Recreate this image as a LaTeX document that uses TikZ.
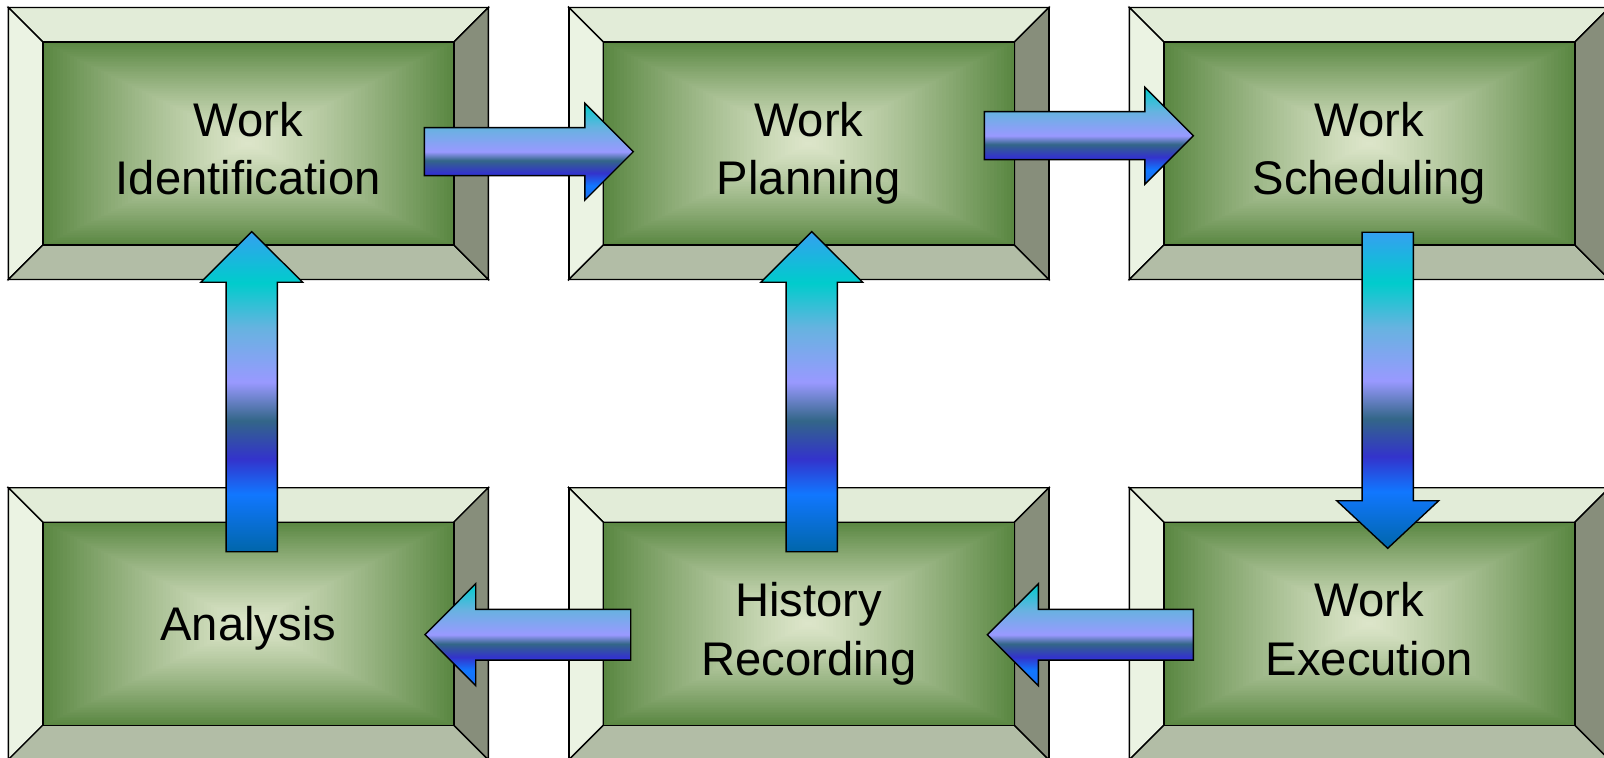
\documentclass[tikz,border=0pt]{standalone}
\usepackage{fontspec}
\setmainfont{Liberation Sans}
\usetikzlibrary{calc}
\definecolor{bevtop}{HTML}{E2ECD8}
\definecolor{bevleft}{HTML}{EBF3E3}
\definecolor{bevbot}{HTML}{B2BDA6}
\definecolor{bevright}{HTML}{878E7B}
\definecolor{glight}{HTML}{DDE6CA}
\definecolor{gdark}{HTML}{5A8742}
\definecolor{hA}{HTML}{00CCCC}
\definecolor{hB}{HTML}{66B3E0}
\definecolor{hC}{HTML}{9999FF}
\definecolor{hD}{HTML}{336688}
\definecolor{hE}{HTML}{3333CC}
\definecolor{hF}{HTML}{1177FF}
\definecolor{hG}{HTML}{1A6FF0}
\definecolor{vTip}{HTML}{35A0F0}
\definecolor{vEnd}{HTML}{0066AA}
\pgfdeclareverticalshading{hgrad}{100bp}{%
  color(0bp)=(hG); color(25bp)=(hG); color(32.5bp)=(hF); color(39bp)=(hE);
  color(45.5bp)=(hD); color(50bp)=(hC); color(62.5bp)=(hB); color(75bp)=(hA); color(100bp)=(hA)}
\pgfdeclareverticalshading{vgrad}{100bp}{%
  color(0bp)=(vEnd); color(25bp)=(vEnd); color(34bp)=(hF); color(39.5bp)=(hE);
  color(45.5bp)=(hD); color(51.5bp)=(hC); color(60bp)=(hB); color(67bp)=(hA); color(75bp)=(vTip); color(100bp)=(vTip)}
\tikzset{
  boxouter/.style={draw=black, line width=0.7pt, minimum width=240pt, minimum height=136pt, inner sep=0pt, outer sep=0pt},
  bevline/.style={draw=black, line width=0.7pt, line join=miter},
  lbl/.style={font=\fontsize{23.6}{29.2}\selectfont, align=center, text depth=0pt, inner sep=0pt},
  harr/.style={shading=hgrad, draw=black, line width=0.7pt, line join=miter},
  varr/.style={shading=vgrad, draw=black, line width=0.7pt, line join=miter}
}
\def\bv{17.25pt}
\newcommand\bevelbox[4]{%
  \node[boxouter] (#1) at (#2) {};
  \path[bevline, fill=bevtop] (#1.north west) -- (#1.north east) -- ($(#1.north east)+(-\bv,-\bv)$) -- ($(#1.north west)+(\bv,-\bv)$) -- cycle;
  \path[bevline, fill=bevleft] (#1.north west) -- ($(#1.north west)+(\bv,-\bv)$) -- ($(#1.south west)+(\bv,\bv)$) -- (#1.south west) -- cycle;
  \path[bevline, fill=bevbot] (#1.south west) -- ($(#1.south west)+(\bv,\bv)$) -- ($(#1.south east)+(-\bv,\bv)$) -- (#1.south east) -- cycle;
  \path[bevline, fill=bevright] (#1.north east) -- ($(#1.north east)+(-\bv,-\bv)$) -- ($(#1.south east)+(-\bv,\bv)$) -- (#1.south east) -- cycle;
  \foreach \i in {0,...,59}{%
    \pgfmathsetmacro\tt{1-\i/60}%
    \pgfmathsetmacro\pp{100*(\tt)^1.2}%
    \fill[gdark!\pp!glight] ($(#1.center)+({-102.75pt*\tt},{-50.75pt*\tt})$) rectangle ($(#1.center)+({102.75pt*\tt},{50.75pt*\tt})$);
  }
  \draw[line width=0.7pt] ($(#1.north west)+(\bv,-\bv)$) rectangle ($(#1.south east)+(-\bv,\bv)$);
  \draw[line width=0.7pt] (#1.north west) rectangle (#1.south east);
  \node[lbl] (#1-t) at ($(#1.center)+(0,#4)$) {#3};
}
% horizontal block arrow: tail, tip, shaft half, head half, head length (signed)
\newcommand\harrow[5]{%
  \path[harr] let \p1=(#1), \p2=(#2) in
    ({\x1},{\y2+#3}) -- ({\x2-(#5)},{\y2+#3}) -- ({\x2-(#5)},{\y2+#4}) -- ({\x2},{\y2}) --
    ({\x2-(#5)},{\y2-#4}) -- ({\x2-(#5)},{\y2-#3}) -- ({\x1},{\y2-#3}) -- cycle;
}
\newcommand\varrow[5]{%
  \path[varr] let \p1=(#1), \p2=(#2) in
    ({\x2+#3},{\y1}) -- ({\x2+#3},{\y2-(#5)}) -- ({\x2+#4},{\y2-(#5)}) -- ({\x2},{\y2}) --
    ({\x2-#4},{\y2-(#5)}) -- ({\x2-#3},{\y2-(#5)}) -- ({\x2-#3},{\y1}) -- cycle;
}
\begin{document}
\begin{tikzpicture}[x=0.5pt,y=-0.5pt]
\useasboundingbox (0,0) rectangle (1604,758);
\clip (0,0) rectangle (1604,758);
\fill[white] (0,0) rectangle (1604,758);
\bevelbox{b1}{248.3,143.5}{Work\\Identification}{-2.6pt}
\bevelbox{b2}{808.8,143.5}{Work\\Planning}{-2.6pt}
\bevelbox{b3}{1369.3,143.5}{Work\\Scheduling}{-2.6pt}
\bevelbox{b4}{248.3,623.7}{Analysis}{0pt}
\bevelbox{b5}{808.8,623.7}{History\\Recording}{-2.6pt}
\bevelbox{b6}{1369.3,623.7}{Work\\Execution}{-2.6pt}
% arrow end points
\coordinate (a1s) at (424.3,151.7);  \coordinate (a1e) at (633.3,151.7);
\coordinate (a2s) at (984.3,135.7);  \coordinate (a2e) at (1193.3,135.7);
\coordinate (a3s) at (1387.7,232.3); \coordinate (a3e) at (1387.7,548.3);
\coordinate (a4s) at (1193.3,634.7); \coordinate (a4e) at (987.3,634.7);
\coordinate (a5s) at (630.7,634.7);  \coordinate (a5e) at (425,634.7);
\coordinate (a6s) at (251.7,551.7);  \coordinate (a6e) at (251.7,231.7);
\coordinate (a7s) at (811.7,551.7);  \coordinate (a7e) at (811.7,231.7);
\harrow{a1s}{a1e}{12pt}{24.2pt}{24.2pt}
\harrow{a2s}{a2e}{12pt}{24.2pt}{24.2pt}
\varrow{a3s}{a3e}{12.8pt}{25.5pt}{-23.8pt}
\harrow{a4s}{a4e}{12.7pt}{25.5pt}{-25.5pt}
\harrow{a5s}{a5e}{12.7pt}{25.5pt}{-25.35pt}
\varrow{a6s}{a6e}{12.8pt}{25.5pt}{25.3pt}
\varrow{a7s}{a7e}{12.8pt}{25.5pt}{25.3pt}
\end{tikzpicture}
\end{document}
